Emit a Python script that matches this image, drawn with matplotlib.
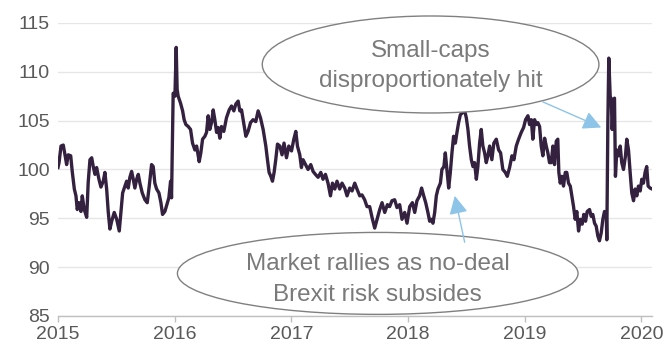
import matplotlib
matplotlib.use("Agg")
import matplotlib.pyplot as plt
from matplotlib.patches import Ellipse

plt.rcParams['font.family'] = ['Liberation Sans', 'DejaVu Sans']

# ---- data (decimal year, index level) ----
years = [
    2015.000, 2015.009, 2015.026, 2015.045, 2015.060, 2015.074, 2015.088, 2015.109, 2015.122, 2015.140,
    2015.154, 2015.165, 2015.180, 2015.197, 2015.208, 2015.225, 2015.246, 2015.259, 2015.274, 2015.289,
    2015.302, 2015.317, 2015.331, 2015.351, 2015.368, 2015.388, 2015.402, 2015.417, 2015.431, 2015.445,
    2015.460, 2015.482, 2015.503, 2015.525, 2015.539, 2015.554, 2015.574, 2015.588, 2015.602, 2015.616,
    2015.631, 2015.645, 2015.659, 2015.674, 2015.688, 2015.702, 2015.722, 2015.745, 2015.765, 2015.782,
    2015.802, 2015.816, 2015.830, 2015.845, 2015.865, 2015.882, 2015.896, 2015.916, 2015.933, 2015.950,
    2015.965, 2015.973, 2015.987, 2016.002, 2016.013, 2016.021, 2016.030, 2016.050, 2016.068, 2016.081,
    2016.096, 2016.116, 2016.136, 2016.153, 2016.173, 2016.188, 2016.210, 2016.224, 2016.239, 2016.259,
    2016.273, 2016.287, 2016.301, 2016.316, 2016.330, 2016.344, 2016.359, 2016.372, 2016.387, 2016.401,
    2016.421, 2016.444, 2016.467, 2016.487, 2016.507, 2016.524, 2016.544, 2016.558, 2016.573, 2016.587,
    2016.610, 2016.629, 2016.650, 2016.672, 2016.695, 2016.715, 2016.735, 2016.758, 2016.781, 2016.795,
    2016.809, 2016.824, 2016.838, 2016.852, 2016.866, 2016.881, 2016.901, 2016.920, 2016.937, 2016.958,
    2016.978, 2017.001, 2017.021, 2017.038, 2017.052, 2017.072, 2017.086, 2017.100, 2017.121, 2017.143,
    2017.166, 2017.186, 2017.206, 2017.229, 2017.252, 2017.271, 2017.292, 2017.314, 2017.335, 2017.352,
    2017.372, 2017.391, 2017.414, 2017.434, 2017.457, 2017.477, 2017.500, 2017.520, 2017.543, 2017.562,
    2017.586, 2017.605, 2017.628, 2017.648, 2017.671, 2017.691, 2017.714, 2017.734, 2017.757, 2017.777,
    2017.800, 2017.823, 2017.842, 2017.862, 2017.885, 2017.905, 2017.928, 2017.948, 2017.971, 2017.991,
    2018.014, 2018.037, 2018.057, 2018.076, 2018.099, 2018.116, 2018.134, 2018.151, 2018.170, 2018.185,
    2018.199, 2018.213, 2018.228, 2018.242, 2018.256, 2018.277, 2018.290, 2018.307, 2018.319, 2018.333,
    2018.348, 2018.362, 2018.376, 2018.390, 2018.405, 2018.419, 2018.433, 2018.448, 2018.465, 2018.485,
    2018.499, 2018.513, 2018.527, 2018.542, 2018.556, 2018.570, 2018.585, 2018.598, 2018.613, 2018.627,
    2018.641, 2018.656, 2018.670, 2018.684, 2018.699, 2018.718, 2018.735, 2018.756, 2018.776, 2018.793,
    2018.812, 2018.833, 2018.850, 2018.870, 2018.890, 2018.907, 2018.927, 2018.947, 2018.970, 2018.990,
    2019.007, 2019.027, 2019.041, 2019.056, 2019.069, 2019.084, 2019.098, 2019.112, 2019.127, 2019.141,
    2019.155, 2019.170, 2019.184, 2019.198, 2019.212, 2019.227, 2019.241, 2019.255, 2019.270, 2019.283,
    2019.292, 2019.304, 2019.318, 2019.332, 2019.347, 2019.360, 2019.375, 2019.390, 2019.403, 2019.418,
    2019.432, 2019.446, 2019.461, 2019.475, 2019.492, 2019.506, 2019.521, 2019.535, 2019.555, 2019.569,
    2019.583, 2019.598, 2019.612, 2019.626, 2019.640, 2019.655, 2019.669, 2019.683, 2019.698, 2019.703,
    2019.712, 2019.720, 2019.732, 2019.741, 2019.749, 2019.760, 2019.769, 2019.777, 2019.789, 2019.803,
    2019.818, 2019.831, 2019.846, 2019.863, 2019.874, 2019.889, 2019.903, 2019.917, 2019.932, 2019.946,
    2019.960, 2019.974, 2019.989, 2020.003, 2020.017, 2020.031, 2020.045, 2020.057, 2020.074, 2020.091,
]
values = [
    100.2, 100.7, 102.4, 102.5, 101.5, 100.5, 101.5, 101.4, 99.8, 98.0,
    97.3, 95.9, 96.6, 95.7, 97.3, 95.9, 95.1, 98.7, 101.0, 101.2,
    100.3, 99.5, 100.2, 99.0, 98.2, 98.8, 99.7, 98.0, 95.6, 93.9,
    94.7, 95.6, 94.9, 93.7, 95.6, 97.6, 98.3, 98.8, 98.1, 99.2,
    99.8, 99.0, 98.1, 99.0, 99.5, 98.6, 97.6, 96.9, 96.6, 98.3,
    100.5, 100.3, 98.6, 98.0, 97.6, 96.6, 95.4, 95.7, 96.4, 97.1,
    98.8, 97.1, 107.8, 107.5, 112.5, 108.2, 107.5, 106.8, 106.0, 105.1,
    104.6, 104.4, 104.1, 102.7, 102.0, 102.4, 100.8, 101.7, 103.1, 103.4,
    103.8, 105.5, 104.1, 104.8, 106.1, 105.1, 103.8, 104.3, 103.2, 104.4,
    103.9, 105.3, 106.1, 106.5, 106.0, 106.7, 107.0, 106.0, 106.1, 105.1,
    103.4, 103.9, 104.8, 105.1, 104.9, 106.0, 105.3, 104.1, 102.4, 101.0,
    99.7, 99.3, 98.8, 99.7, 101.0, 102.6, 102.4, 101.5, 102.7, 101.2,
    102.4, 101.9, 103.1, 103.9, 102.4, 101.5, 100.2, 101.0, 100.5, 100.0,
    100.5, 99.8, 99.5, 99.2, 99.7, 99.0, 99.5, 98.6, 97.3, 98.6,
    98.0, 98.8, 98.0, 98.6, 98.1, 97.3, 98.1, 97.8, 98.6, 98.0,
    97.3, 97.4, 96.9, 96.2, 96.2, 95.1, 94.0, 94.9, 95.9, 96.6,
    95.6, 96.4, 96.2, 96.8, 96.9, 96.1, 96.4, 94.9, 95.6, 94.5,
    96.2, 96.6, 95.6, 96.8, 97.3, 98.1, 97.3, 96.6, 95.6, 94.7,
    94.9, 94.5, 95.6, 97.3, 98.0, 98.6, 100.0, 100.3, 101.7, 100.0,
    98.1, 99.7, 101.7, 103.4, 102.7, 103.8, 104.8, 105.6, 105.8, 106.0,
    105.3, 104.1, 102.4, 101.0, 100.3, 100.7, 99.0, 100.3, 102.7, 104.1,
    102.4, 101.7, 100.7, 101.4, 102.4, 101.0, 102.7, 103.1, 102.0, 101.7,
    100.0, 99.7, 99.3, 100.2, 101.4, 101.0, 102.4, 103.1, 103.8, 104.3,
    105.1, 105.5, 104.6, 105.1, 103.1, 105.1, 104.6, 104.8, 104.4, 102.4,
    101.4, 103.2, 102.4, 101.7, 100.7, 100.7, 102.4, 100.5, 102.9, 103.1,
    99.7, 98.6, 99.3, 98.3, 99.7, 99.7, 98.6, 98.3, 97.3, 96.2,
    94.9, 95.7, 93.7, 94.9, 94.4, 95.4, 94.7, 95.7, 95.9, 95.2,
    95.4, 94.5, 94.2, 93.2, 92.7, 93.5, 94.9, 95.7, 95.6, 92.8,
    104.8, 111.4, 107.5, 107.2, 104.1, 107.2, 107.3, 99.3, 102.0, 101.4,
    102.4, 100.7, 100.0, 101.4, 103.1, 102.0, 99.7, 97.6, 96.8, 98.0,
    97.3, 98.3, 97.8, 99.0, 98.6, 99.7, 100.3, 98.3, 98.1, 98.0,
]

x_ticks = [2015, 2016, 2017, 2018, 2019, 2020]
x_tick_labels = ["2015", "2016", "2017", "2018", "2019", "2020"]
y_ticks = [85, 90, 95, 100, 105, 110, 115]

note_top = "Small-caps\ndisproportionately hit"
note_bottom = "Market rallies as no-deal\nBrexit risk subsides"

# ---- figure ----
fig = plt.figure(figsize=(6.65, 3.45), dpi=100)
ax = fig.add_axes([0.0872, 0.0841, 0.8932, 0.8493])

line_color = "#33213f"
grey_text = "#595959"
note_grey = "#7a7a7a"
arrow_blue = "#8dc4e8"

ax.plot(years, values, color=line_color, lw=2.4, solid_joinstyle="round", zorder=3)

ax.set_xlim(2015, 2020.09)
ax.set_ylim(85, 115)
ax.set_yticks(y_ticks)
ax.set_xticks(x_ticks)
ax.set_xticklabels(x_tick_labels)

ax.grid(axis="y", color="#e6e6e6", lw=1.0)
ax.set_axisbelow(True)
for s in ["top", "right", "left"]:
    ax.spines[s].set_visible(False)
ax.spines["bottom"].set_color("#bfbfbf")
ax.spines["bottom"].set_linewidth(1.0)

ax.tick_params(axis="y", length=0, pad=6, labelsize=14, labelcolor=grey_text)
ax.tick_params(axis="x", length=4, width=1, color="#bfbfbf", pad=3.5,
               labelsize=14, labelcolor=grey_text)

# ellipses (white fill, grey outline)
e1 = Ellipse((2018.193, 110.75), 2.885, 9.93, facecolor="white",
             edgecolor="#808080", lw=1.0, zorder=5, clip_on=False)
e2 = Ellipse((2017.740, 89.36), 3.433, 8.39, facecolor="white",
             edgecolor="#808080", lw=1.0, zorder=5, clip_on=False)
ax.add_patch(e1)
ax.add_patch(e2)

ax.text(2018.193, 110.6, note_top, ha="center", va="center", fontsize=17.5,
        color=note_grey, linespacing=1.5, zorder=6, clip_on=False)
ax.text(2017.740, 88.75, note_bottom, ha="center", va="center", fontsize=17.5,
        color=note_grey, linespacing=1.5, zorder=6, clip_on=False)

# arrows
ap = dict(arrowstyle="-|>,head_length=0.55,head_width=0.28", color=arrow_blue,
          lw=1.0, mutation_scale=20, shrinkA=0, shrinkB=0)
ax.annotate("", xy=(2019.655, 104.3), xytext=(2019.155, 106.92),
            arrowprops=ap, zorder=7, annotation_clip=False)
ax.annotate("", xy=(2018.400, 97.3), xytext=(2018.485, 92.55),
            arrowprops=ap, zorder=7, annotation_clip=False)

fig.savefig("out.png", dpi=100)
